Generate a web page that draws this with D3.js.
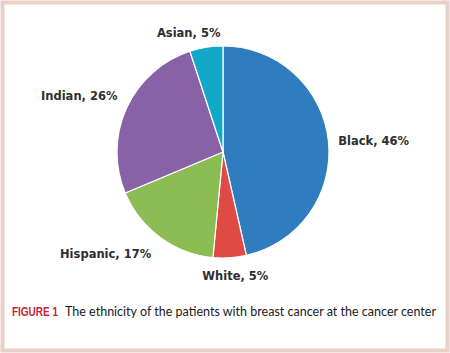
<!DOCTYPE html>
<html>
<head>
<meta charset="utf-8">
<script src="https://cdn.jsdelivr.net/npm/d3@7"></script>
<style>
  body { margin: 0; background: #fff; }
  svg { display: block; }
  .label { font-family: "DejaVu Sans", sans-serif; font-weight: bold; font-size: 11.5px; fill: #2e2e2e; }
  .caption { font-family: Lato, "Open Sans", sans-serif; font-weight: 400; font-size: 12.5px; fill: #1a1a1a; }
  .fig { font-family: "Liberation Sans", Arial, sans-serif; font-weight: bold; font-size: 12.5px; fill: #c81f35; }
</style>
</head>
<body>
<div id="chart"></div>
<script>
// data, clockwise from 12 o'clock
let categories = ["Black", "White", "Hispanic", "Indian", "Asian"]
let values = [46, 5, 17, 26, 5]
let colors = ["#2f7dbf", "#e04a45", "#8cbd55", "#8961a6", "#12a8c7"]

// label placement relative to the label arc point
let labelAnchor = {Black: "start", White: "middle", Hispanic: "end", Indian: "end", Asian: "middle"}
let labelNudge = {Black: [0, 6], White: [5, 12], Hispanic: [-3, 13], Indian: [0, -4], Asian: [-16, 0]}

let width = 450, height = 353
let cx = 223, cy = 152, radius = 106

let svg = d3.select("#chart").append("svg")
    .attr("width", width)
    .attr("height", height)

// pink frame
svg.append("rect")
  .attr("x", 2.5).attr("y", 2.5)
  .attr("width", width - 5).attr("height", height - 5)
  .attr("fill", "#fff")
  .attr("stroke", "#ebd0c8")
  .attr("stroke-width", 4)

let data = categories.map((c, i) => ({name: c, value: values[i], color: colors[i]}))

let pie = d3.pie().value(d => d.value).sort(null)
let arc = d3.arc().innerRadius(0).outerRadius(radius)
let labelArc = d3.arc().innerRadius(radius + 10).outerRadius(radius + 10)

let g = svg.append("g").attr("transform", "translate(" + cx + "," + cy + ")")

let arcs = pie(data)

g.selectAll("path")
  .data(arcs)
  .enter().append("path")
  .attr("d", arc)
  .attr("fill", d => d.data.color)
  .attr("stroke", "#fff")
  .attr("stroke-width", 1.2)

g.selectAll("text.label")
  .data(arcs)
  .enter().append("text")
  .attr("class", "label")
  .attr("text-anchor", d => labelAnchor[d.data.name])
  .attr("x", d => labelArc.centroid(d)[0] + labelNudge[d.data.name][0])
  .attr("y", d => labelArc.centroid(d)[1] + labelNudge[d.data.name][1])
  .text(d => d.data.name + ", " + d.data.value + "%")

// caption
svg.append("text")
  .attr("class", "fig")
  .attr("x", 12).attr("y", 316)
  .attr("textLength", 46)
  .attr("lengthAdjust", "spacingAndGlyphs")
  .text("FIGURE 1")

svg.append("text")
  .attr("class", "caption")
  .attr("x", 65).attr("y", 316)
  .attr("textLength", 371)
  .attr("lengthAdjust", "spacing")
  .text("The ethnicity of the patients with breast cancer at the cancer center")
</script>
</body>
</html>
